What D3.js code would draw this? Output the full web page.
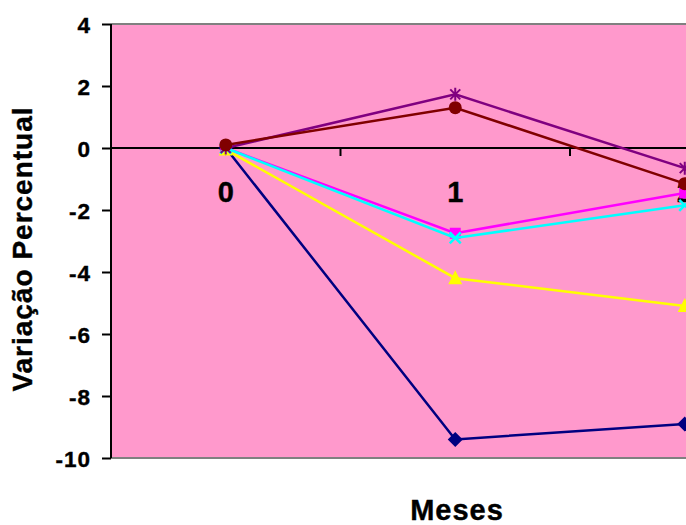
<!DOCTYPE html>
<html><head><meta charset="utf-8">
<script src="https://cdn.jsdelivr.net/npm/d3@7"></script>
<style>html,body{margin:0;padding:0;background:#fff;overflow:hidden}svg{display:block}</style>
</head><body>
<script>
const months = ["0", "1", "2"];
const yTicks = [4, 2, 0, -2, -4, -6, -8, -10];
const sDiamond = [0, -9.4, -8.9];
const sSquare  = [0, -2.75, -1.45];
const sTriangle = [-0.05, -4.2, -5.1];
const sCross   = [0, -2.9, -1.85];
const sStar    = [0, 1.73, -0.65];
const sCircle  = [0.1, 1.3, -1.15];

const series = [
  {values: sDiamond, color: "#000080", marker: "diamond"},
  {values: sSquare, color: "#FF00FF", marker: "square"},
  {values: sTriangle, color: "#FFFF00", marker: "triangle"},
  {values: sCross, color: "#00FFFF", marker: "cross"},
  {values: sStar, color: "#800080", marker: "star"},
  {values: sCircle, color: "#800000", marker: "circle"}
];

const W = 686, H = 525;
const pLeft = 111, pTop = 24, pBottom = 458;
const catW = 229.5;
const pRight = pLeft + catW * months.length;

const svg = d3.select("body").append("svg").attr("width", W).attr("height", H);

const x = d3.scaleBand().domain(months).range([pLeft, pRight]);
const y = d3.scaleLinear().domain([-10, 4]).range([pBottom, pTop]);

// plot background
svg.append("rect").attr("x", pLeft).attr("y", pTop).attr("width", pRight - pLeft).attr("height", pBottom - pTop).attr("fill", "#FF99CC");
svg.append("line").attr("x1", pLeft).attr("x2", pRight).attr("y1", pTop).attr("y2", pTop).attr("stroke", "#808080").attr("stroke-width", 2);
svg.append("line").attr("x1", pLeft).attr("x2", pRight).attr("y1", pBottom).attr("y2", pBottom).attr("stroke", "#808080").attr("stroke-width", 2);

// y axis
const yAxis = d3.axisLeft(y).tickValues(yTicks).tickSize(9).tickPadding(11).tickFormat(d => String(d));
const ya = svg.append("g").attr("transform", `translate(${pLeft},0)`).call(yAxis);
ya.select(".domain").attr("stroke", "#000").attr("stroke-width", 2).attr("d", `M0,${pTop}V${pBottom}`);
ya.selectAll(".tick line").attr("stroke", "#000").attr("stroke-width", 2);
ya.selectAll(".tick text").attr("font-family", "Liberation Sans, Arial, sans-serif").attr("font-weight", "bold").attr("font-size", 22.5).attr("letter-spacing", 1)
  .attr("fill", "#000").attr("stroke", "#000").attr("stroke-width", 0.4).attr("dy", "0.36em");

// x axis at zero
const zy = y(0);
svg.append("line").attr("x1", pLeft).attr("x2", pRight).attr("y1", zy).attr("y2", zy).attr("stroke", "#000").attr("stroke-width", 2);
const bounds = months.slice(1).map((m) => x(m));
svg.selectAll(".ctick").data(bounds).enter().append("line")
  .attr("x1", d => d).attr("x2", d => d).attr("y1", zy).attr("y2", zy + 8).attr("stroke", "#000").attr("stroke-width", 2);
svg.selectAll(".clabel").data(months).enter().append("text")
  .attr("x", d => x(d) + x.bandwidth() / 2).attr("y", 202)
  .attr("text-anchor", "middle").attr("font-family", "Liberation Sans, Arial, sans-serif").attr("font-weight", "bold").attr("font-size", 29)
  .attr("stroke", "#000").attr("stroke-width", 0.4)
  .text(d => d);

// titles
svg.append("text").attr("x", 457).attr("y", 520).attr("text-anchor", "middle")
  .attr("font-family", "Liberation Sans, Arial, sans-serif").attr("font-weight", "bold").attr("font-size", 29).attr("letter-spacing", 1)
  .attr("stroke", "#000").attr("stroke-width", 0.4).text("Meses");
svg.append("text").attr("transform", "translate(32,249) rotate(-90)").attr("text-anchor", "middle")
  .attr("font-family", "Liberation Sans, Arial, sans-serif").attr("font-weight", "bold").attr("font-size", 28).attr("letter-spacing", 1)
  .attr("stroke", "#000").attr("stroke-width", 0.4)
  .text("Variação Percentual");

// lines and markers
const cx = i => x(months[i]) + x.bandwidth() / 2;
const line = d3.line().x((d, i) => cx(i)).y(d => y(d));
const g = svg.append("g");
series.forEach(s => {
  g.append("path").attr("d", line(s.values)).attr("fill", "none").attr("stroke", s.color).attr("stroke-width", 2.5);
  s.values.forEach((v, i) => {
    const px = cx(i), py = y(v);
    const m = g.append("g").attr("transform", `translate(${px},${py})`);
    if (s.marker === "diamond") m.append("path").attr("d", "M0,-7.5L7.5,0L0,7.5L-7.5,0Z").attr("fill", s.color);
    else if (s.marker === "square") m.append("rect").attr("x", -5.5).attr("y", -5.5).attr("width", 11).attr("height", 11).attr("fill", s.color);
    else if (s.marker === "triangle") m.append("path").attr("d", "M0,-8L7,6L-7,6Z").attr("fill", s.color);
    else if (s.marker === "circle") m.append("circle").attr("r", 6.5).attr("fill", s.color);
    else if (s.marker === "cross") m.append("path").attr("d", "M-5.5,-5.5L5.5,5.5M5.5,-5.5L-5.5,5.5").attr("stroke", s.color).attr("stroke-width", 2.5);
    else if (s.marker === "star") m.append("path").attr("d", "M-5,-5L5,5M5,-5L-5,5M0,-6.5V6.5").attr("stroke", s.color).attr("stroke-width", 2);
  });
});
</script>
</body></html>
